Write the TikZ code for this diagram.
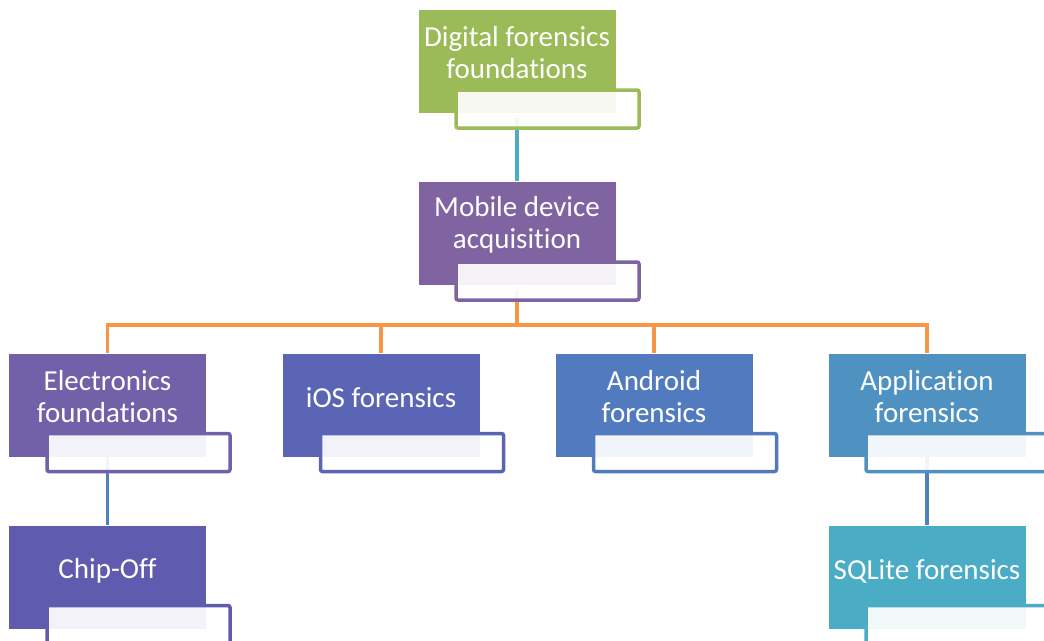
\documentclass[tikz,border=0pt]{standalone}
\usepackage{fontspec}
\setmainfont[Ligatures=NoCommon]{Carlito}
\usetikzlibrary{positioning}
\definecolor{leafgreen}{HTML}{9BBB59}
\definecolor{mobpurple}{HTML}{8064A2}
\definecolor{elecpurple}{HTML}{7260A8}
\definecolor{iosblue}{HTML}{5A66B5}
\definecolor{andblue}{HTML}{527BBF}
\definecolor{appblue}{HTML}{4F92C2}
\definecolor{chipblue}{HTML}{5F5BAE}
\definecolor{sqlteal}{HTML}{4BACC6}
\definecolor{linkteal}{HTML}{4BACC6}
\definecolor{linkorange}{HTML}{F79646}
\definecolor{linkblue}{HTML}{4F81BD}
\tikzset{
    topic/.style={ % coloured block of each entry
        draw=white, line width=0.6pt,
        fill=#1,
        minimum width=198pt, minimum height=104pt,
        inner sep=0pt
    },
    tag/.style={ % light label box at lower right
        draw=#1, line width=3.5pt,
        rounded corners=2pt,
        fill=white, fill opacity=0.92,
        minimum width=183pt, minimum height=38pt,
        inner sep=0pt
    },
    title/.style={
        text=white, align=center,
        font=\fontsize{29}{32}\selectfont
    },
    link/.style={line width=3.5pt, draw=#1}
}
\begin{document}
\begin{tikzpicture}[x=1pt,y=-1pt]
\useasboundingbox (0,0) rectangle (1044,640);
\clip (0,0) rectangle (1044,640);
% connectors first, boxes on top
\coordinate (bus) at (517,325);
\node [topic=leafgreen]  (dig) at (517,61) {};
\node [topic=mobpurple]  (mob) at (517,233) {};
\node [topic=elecpurple] (elec) at (107.5,405) {};
\node [topic=iosblue]    (ios) at (381,405) {};
\node [topic=andblue]    (and) at (654,405) {};
\node [topic=appblue]    (app) at (927,405) {};
\node [topic=chipblue]   (chip) at (107.5,577.5) {};
\node [topic=sqlteal]    (sql) at (927,577.5) {};

\draw[link=linkteal] (dig.center |- 0,118) -- (mob.north);
\draw[link=linkorange] (mob.center |- 0,290) -- (bus) -| (elec.north);
\draw[link=linkorange] (bus) -| (ios.north);
\draw[link=linkorange] (bus) -| (and.north);
\draw[link=linkorange] (bus) -| (app.north);
\draw[link=linkblue] (elec.south) -- (chip.north);
\draw[link=linkblue] (app.south) -- (sql.north);

\node [tag=leafgreen]  (digtag) at (547.5,109) {};
\node [tag=mobpurple]  (mobtag) at (547.5,281) {};
\node [tag=elecpurple] (electag) at (138.5,452.5) {};
\node [tag=iosblue]    (iostag) at (412,452.5) {};
\node [tag=andblue]    (andtag) at (685,452.5) {};
\node [tag=appblue]    (apptag) at (957.5,452.5) {};
\node [tag=chipblue]   (chiptag) at (138.5,624.5) {};
\node [tag=sqlteal]    (sqltag) at (957.5,624.5) {};

\node [title] (diglbl) at (517,53) {Digital forensics\\foundations};
\node [title] (moblbl) at (517,225) {Mobile device\\acquisition};
\node [title] (eleclbl) at (107.5,397) {Electronics\\foundations};
\node [title] (ioslbl) at (381,398) {iOS forensics};
\node [title] (andlbl) at (654,397) {Android\\forensics};
\node [title] (applbl) at (927,397) {Application\\forensics};
\node [title] (chiplbl) at (107.5,571) {Chip-Off};
\node [title] (sqllbl) at (927,571) {SQLite forensics};
\end{tikzpicture}
\end{document}
